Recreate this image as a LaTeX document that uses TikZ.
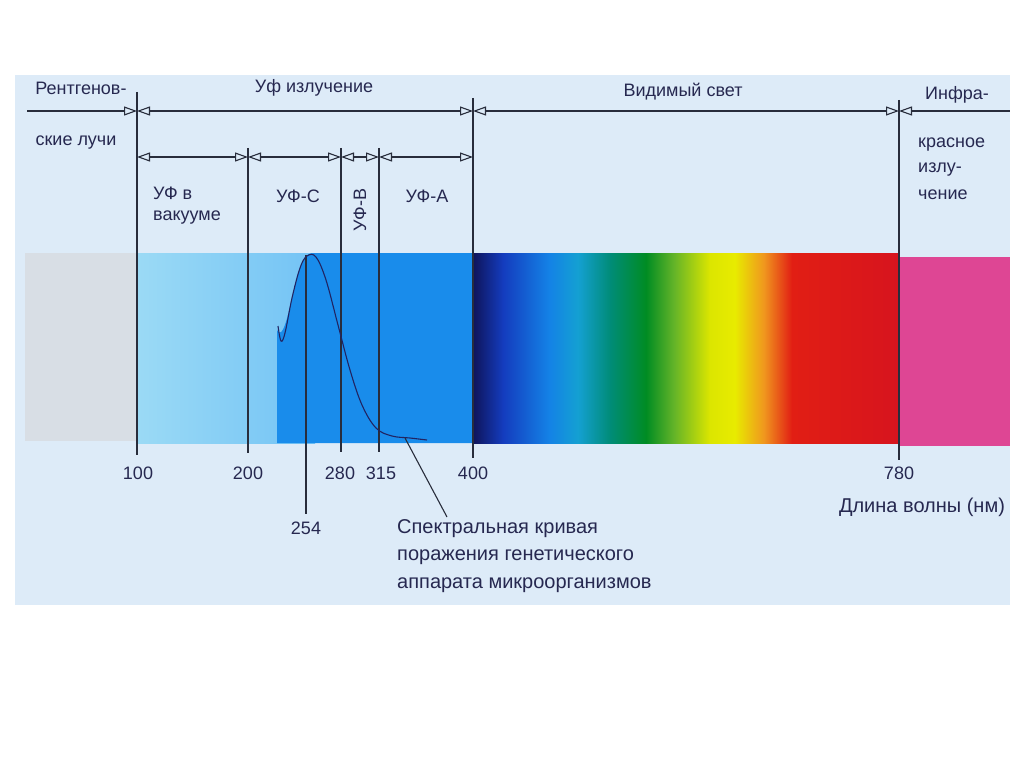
\documentclass[tikz,border=0pt]{standalone}
\usepackage{fontspec}
\setmainfont{Liberation Sans}
\usetikzlibrary{arrows.meta}
\definecolor{panel}{RGB}{221,235,248}
\definecolor{ink}{RGB}{38,40,80}
\definecolor{lineink}{RGB}{40,45,60}
\definecolor{xgray}{RGB}{216,222,229}
\definecolor{uvlight}{RGB}{155,218,245}
\definecolor{uvlight2}{RGB}{115,195,245}
\definecolor{uvmid}{RGB}{25,140,235}
\definecolor{s1}{RGB}{15,20,90}
\definecolor{s2}{RGB}{20,60,190}
\definecolor{s3}{RGB}{20,130,230}
\definecolor{s4}{RGB}{20,160,210}
\definecolor{s5}{RGB}{0,140,120}
\definecolor{s6}{RGB}{0,140,35}
\definecolor{s7}{RGB}{100,180,40}
\definecolor{s8}{RGB}{220,230,0}
\definecolor{s9}{RGB}{232,235,0}
\definecolor{s10}{RGB}{240,150,30}
\definecolor{s11}{RGB}{225,30,20}
\definecolor{s12}{RGB}{215,20,30}
\definecolor{irpink}{RGB}{222,70,148}
\tikzset{
  lbl/.style={text=ink, font=\fontsize{18}{20}\selectfont, inner sep=0pt},
  big/.style={text=ink, font=\fontsize{20}{22}\selectfont, inner sep=0pt},
  num/.style={lbl},
  dim/.style={draw=lineink, line width=1.1pt},
  tipL/.style={{Triangle[open,length=13pt,width=9pt,fill=panel]}-},
  tipR/.style={-{Triangle[open,length=13pt,width=9pt,fill=panel]}},
  tipB/.style={{Triangle[open,length=13pt,width=9pt,fill=panel]}-{Triangle[open,length=13pt,width=9pt,fill=panel]}},
  vline/.style={draw=lineink, line width=1.1pt},
}
\begin{document}
\begin{tikzpicture}[x=1pt,y=-1pt]
\useasboundingbox (0,0) rectangle (1024,767);
\fill[white] (0,0) rectangle (1024,767);
\fill[panel] (15,75) rectangle (1010,605);

% spectrum band
\fill[xgray] (25,253) rectangle (137,441);
\shade[left color=uvlight, right color=uvlight2] (137,253) rectangle (315,443);
\fill[uvmid] (277,443) -- (277,330) .. controls (285,345) and (292,290) .. (300,268)
   .. controls (304,258) and (306,254) .. (312,253) -- (473,253) -- (473,443) -- cycle;
\shade[left color=s1, right color=s2] (473,253) rectangle (503,443);
\shade[left color=s2, right color=s3] (503,253) rectangle (549,443);
\shade[left color=s3, right color=s4] (549,253) rectangle (578,443);
\shade[left color=s4, right color=s5] (578,253) rectangle (610,443);
\shade[left color=s5, right color=s6] (610,253) rectangle (646,443);
\shade[left color=s6, right color=s7] (646,253) rectangle (674,443);
\shade[left color=s7, right color=s8] (674,253) rectangle (710,443);
\shade[left color=s8, right color=s9] (710,253) rectangle (735,443);
\shade[left color=s9, right color=s10] (735,253) rectangle (764,443);
\shade[left color=s10, right color=s11] (764,253) rectangle (792,443);
\shade[left color=s11, right color=s12] (792,253) rectangle (899,443);
\fill[irpink] (899,257) rectangle (1010,446);

% coordinates of dividers
\coordinate (xl) at (27,111);
\coordinate (t100) at (137,111);
\coordinate (t400) at (473,111);
\coordinate (t780) at (899,111);
\coordinate (xr) at (1010,111);
\coordinate (m100) at (137,157);
\coordinate (m200) at (248,157);
\coordinate (m280) at (341,157);
\coordinate (m315) at (379,157);
\coordinate (m400) at (473,157);

% vertical lines
\coordinate (v100a) at (137,92);   \coordinate (v100b) at (137,455);
\coordinate (v400a) at (473,98);   \coordinate (v400b) at (473,458);
\coordinate (v780a) at (899,100);  \coordinate (v780b) at (899,460);
\coordinate (v200a) at (248,148);  \coordinate (v200b) at (248,453);
\coordinate (v280a) at (341,148);  \coordinate (v280b) at (341,452);
\coordinate (v315a) at (379,148);  \coordinate (v315b) at (379,452);
\coordinate (v254a) at (306,255);  \coordinate (v254b) at (306,514);
\foreach \a/\b in {v100a/v100b,v400a/v400b,v780a/v780b,v200a/v200b,v280a/v280b,v315a/v315b,v254a/v254b}
  \draw[vline] (\a) -- (\b);

% dimension lines
\draw[dim, tipR] (xl) -- (t100);
\draw[dim, tipB] (t100) -- (t400);
\draw[dim, tipB] (t400) -- (t780);
\draw[dim, tipL] (t780) -- (xr);
\draw[dim, tipB] (m100) -- (m200);
\draw[dim, tipB] (m200) -- (m280);
\draw[dim, tipB] (m280) -- (m315);
\draw[dim, tipB] (m315) -- (m400);

% spectral curve
\draw[draw=lineink!80!blue, line width=1.1pt] plot[smooth, tension=0.6] coordinates {
 (278,326) (281,341) (285,333) (292,298) (300,268) (307,256) (316,257)
 (326,280) (338,325) (350,370) (362,405) (376,428) (392,436) (410,438) (427,440)};
\coordinate (lead) at (405,438);

% labels
\node[lbl] (rent1) at (81,88) {Рентгенов-};
\node[lbl] (rent2) at (76,143) {ские лучи};
\node[lbl] (uv) at (314,88) {Уф излучение};
\node[lbl] (vis) at (683,92) {Видимый свет};
\node[lbl] (ir1) at (957,95) {Инфра-};
\node[lbl, anchor=west] (ir2) at (918,145) {красное};
\node[lbl, anchor=west] (ir3) at (918,170) {излу-};
\node[lbl, anchor=west] (ir4) at (918,195) {чение};
\node[lbl, anchor=west] (uvv1) at (153,193) {УФ в};
\node[lbl, anchor=west] (uvv2) at (153,218) {вакууме};
\node[lbl] (uvc) at (298,196) {УФ-С};
\node[lbl, rotate=90] (uvb) at (360,210) {УФ-В};
\node[lbl] (uva) at (427,196) {УФ-А};

\node[num] (n100) at (138,473) {100};
\node[num] (n200) at (248,473) {200};
\node[num] (n280) at (340,473) {280};
\node[num] (n315) at (381,473) {315};
\node[num] (n400) at (473,473) {400};
\node[num] (n780) at (899,473) {780};
\node[num] (n254) at (306,528) {254};
\node[big] (wl) at (922,507) {Длина волны (нм)};
\node[big, anchor=west] (c1) at (397,529) {Спектральная кривая};
\node[big, anchor=west] (c2) at (397,557) {поражения генетического};
\node[big, anchor=west] (c3) at (397,585) {аппарата микроорганизмов};
\coordinate (leadend) at (447,517);
\draw[vline] (lead) -- (leadend);
\end{tikzpicture}
\end{document}
